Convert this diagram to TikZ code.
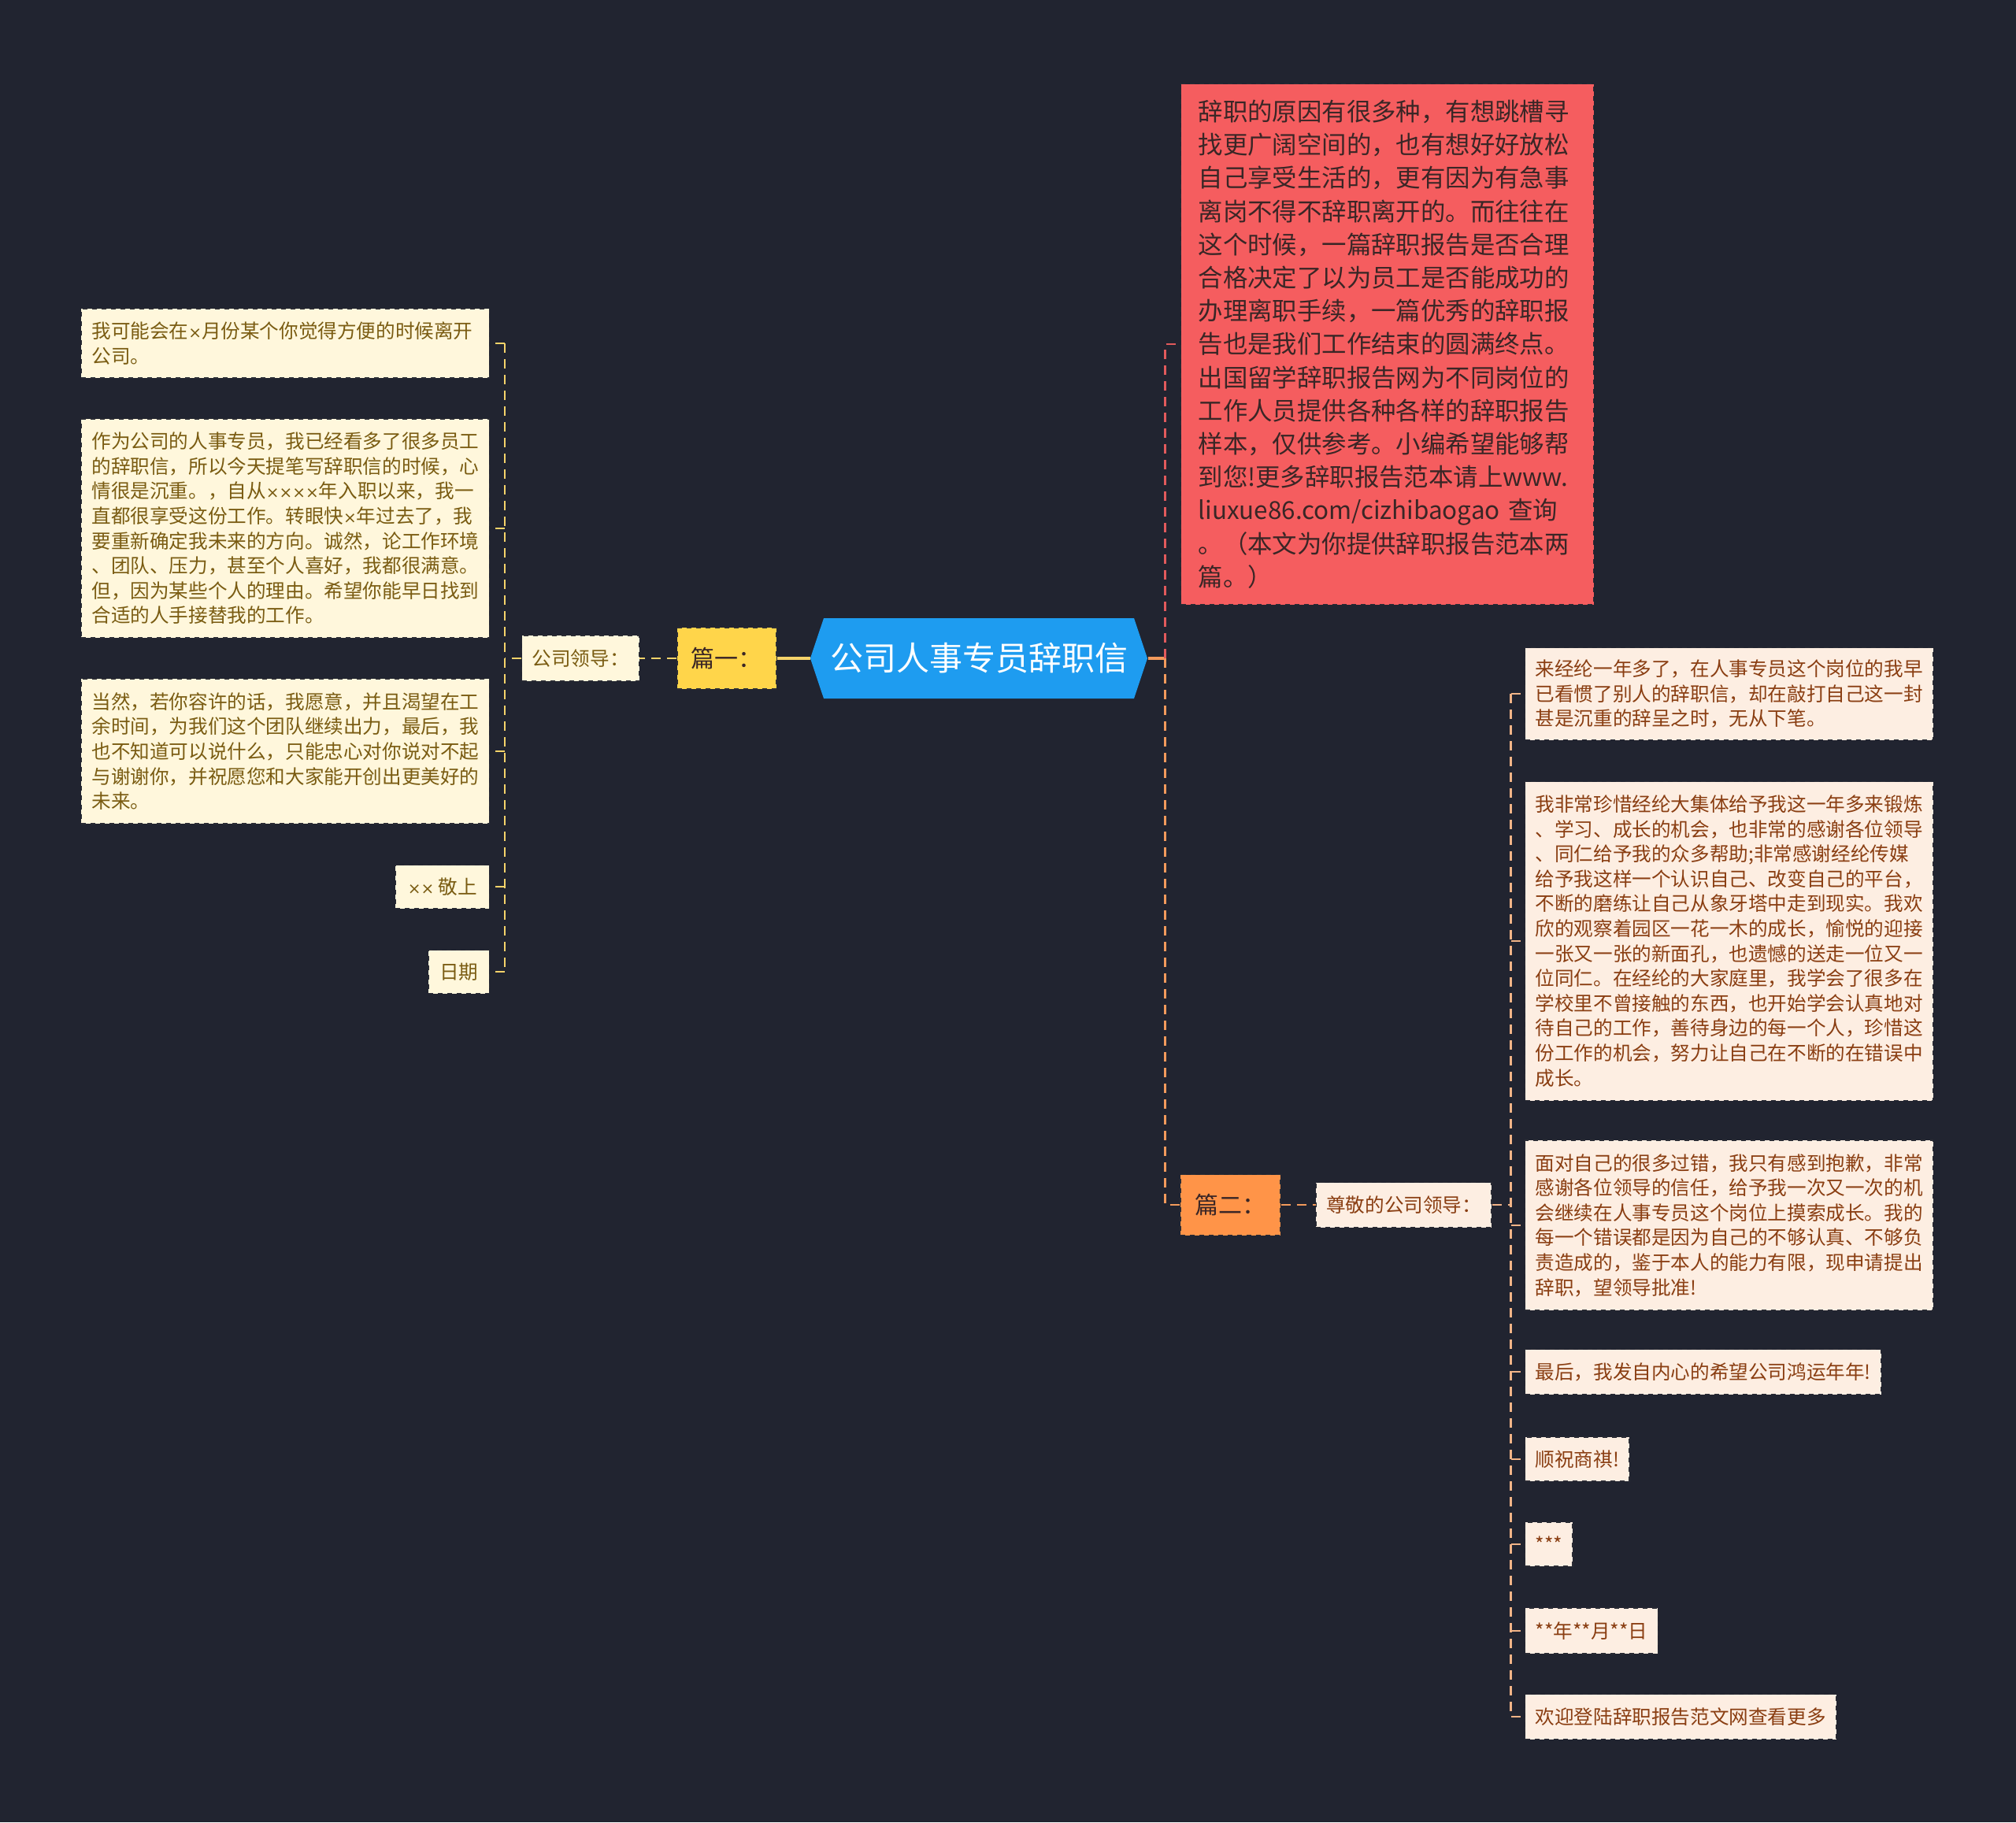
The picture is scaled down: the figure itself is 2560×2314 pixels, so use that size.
\documentclass[tikz,border=0pt]{standalone}
\usepackage{fontspec}
\setmainfont{Noto Sans CJK SC}
\newfontfamily\narrowfont{DejaVu Sans}
\newcommand{\mul}{{\narrowfont\fontsize{10}{12}\selectfont ×}}
\usepackage{tikz}
\usetikzlibrary{positioning,shapes.symbols}
\definecolor{MapBg}{HTML}{212430}
\definecolor{MapEdge}{HTML}{2A2C35}
\definecolor{MapBlue}{HTML}{1E9CF0}
\definecolor{MapYellow}{HTML}{FFD54A}
\definecolor{MapOrange}{HTML}{FF9448}
\definecolor{MapRed}{HTML}{F55D5F}
\definecolor{MapCream}{HTML}{FFF7DC}
\definecolor{MapPeach}{HTML}{FDEEE2}
\definecolor{MapOlive}{HTML}{7A5C12}
\definecolor{MapBrown}{HTML}{8A3E12}
\definecolor{MapInk}{HTML}{3A2626}
\definecolor{LinkYellow}{HTML}{F5D36A}
\definecolor{LinkRed}{HTML}{E25A5C}
\definecolor{LinkOrange}{HTML}{F29A5C}
\definecolor{LinkPeach}{HTML}{F2B487}

\begin{document}
\begin{tikzpicture}[x=0.5pt, y=-0.5pt,
  every node/.style={inner sep=0pt, align=left},
  box/.style={draw=MapEdge, dashed, line width=0.6pt, inner xsep=6.5pt},
  leafl/.style={box, fill=MapCream, text=MapOlive, anchor=east, font=\fontsize{12.3}{15.8}\selectfont},
  leafr/.style={box, fill=MapPeach, text=MapBrown, anchor=west, font=\fontsize{12.3}{15.8}\selectfont},
  wide/.style={text width=246pt},
  linkl/.style={draw=LinkYellow, line width=1.3pt, dash pattern=on 6pt off 4pt},
  linkr/.style={draw=LinkPeach, line width=1.3pt, dash pattern=on 6pt off 4pt}]
  \fill[MapBg] (0,0) rectangle (2560,2314);
  \useasboundingbox (0,0) rectangle (2560,2314);

  % centre
  \node[signal, signal to=west and east, signal pointer angle=143, fill=MapBlue, text=white, font=\fontsize{21}{25}\selectfont, minimum width=211pt, minimum height=51pt, inner xsep=4pt] (root) at (1243,836) {公司人事专员辞职信};

  % part one
  \node[box, fill=MapYellow, text=MapInk, font=\fontsize{15}{18}\selectfont, minimum width=63pt, minimum height=39pt, left=21pt of root] (part1) {篇一：};
  \node[box, fill=MapCream, text=MapOlive, font=\fontsize{12.3}{15.8}\selectfont, minimum width=73.5pt, minimum height=29pt, left=23.5pt of part1] (boss1) {公司领导：};

  \node[leafl, wide, minimum height=44pt] (l1) at (622,436) {我可能会在\mul 月份某个你觉得方便的时候离开\\公司。};
  \node[leafl, wide, minimum height=139pt] (l2) at (622,671) {作为公司的人事专员，我已经看多了很多员工\\的辞职信，所以今天提笔写辞职信的时候，心\\情很是沉重。，自从\mul\mul\mul\mul 年入职以来，我一\\直都很享受这份工作。转眼快\mul 年过去了，我\\要重新确定我未来的方向。诚然，论工作环境\\、团队、压力，甚至个人喜好，我都很满意。\\但，因为某些个人的理由。希望你能早日找到\\合适的人手接替我的工作。};
  \node[leafl, wide, minimum height=92pt] (l3) at (622,954) {当然，若你容许的话，我愿意，并且渴望在工\\余时间，为我们这个团队继续出力，最后，我\\也不知道可以说什么，只能忠心对你说对不起\\与谢谢你，并祝愿您和大家能开创出更美好的\\未来。};
  \node[leafl, minimum width=59.5pt, minimum height=27.5pt] (l4) at (622,1126) {\mul\mul\ 敬上};
  \node[leafl, minimum width=38.5pt, minimum height=27.5pt] (l5) at (622,1234) {日期};

  \draw[draw=LinkYellow, line width=2pt] (root.west) -- (part1.east);
  \draw[linkl] (part1.west) -- (boss1.east);
  \draw[linkl] (boss1.west) -- ++(-21,0) coordinate (ltrunk);
  \draw[linkl] (ltrunk |- l1.east) -- (ltrunk |- l5.east);
  \foreach \n in {l1,l2,l3,l4,l5}
    \draw[linkl] (ltrunk |- \n.east) -- (\n.east);

  % intro
  \node[box, fill=MapRed, text=MapInk, font=\fontsize{15.7}{21.1}\selectfont, text width=240pt, inner xsep=11pt, minimum height=330.5pt, anchor=north west] (intro) at (1499,106) {辞职的原因有很多种，有想跳槽寻\\找更广阔空间的，也有想好好放松\\自己享受生活的，更有因为有急事\\离岗不得不辞职离开的。而往往在\\这个时候，一篇辞职报告是否合理\\合格决定了以为员工是否能成功的\\办理离职手续，一篇优秀的辞职报\\告也是我们工作结束的圆满终点。\\出国留学辞职报告网为不同岗位的\\工作人员提供各种各样的辞职报告\\样本，仅供参考。小编希望能够帮\\到您!更多辞职报告范本请上www.\\liuxue86.com/cizhibaogao 查询\\。（本文为你提供辞职报告范本两\\篇。）};

  % part two
  \node[box, fill=MapOrange, text=MapInk, font=\fontsize{15}{18}\selectfont, minimum width=63.5pt, minimum height=38.5pt] (part2) at (1562.5,1530) {篇二：};
  \node[box, fill=MapPeach, text=MapBrown, font=\fontsize{12.3}{15.8}\selectfont, minimum width=110.5pt, minimum height=28.5pt, right=22pt of part2] (boss2) {尊敬的公司领导：};

  \node[leafr, wide, minimum height=58.5pt] (r1) at (1936,881) {来经纶一年多了，在人事专员这个岗位的我早\\已看惯了别人的辞职信，却在敲打自己这一封\\甚是沉重的辞呈之时，无从下笔。};
  \node[leafr, wide, minimum height=202.5pt] (r2) at (1936,1195) {我非常珍惜经纶大集体给予我这一年多来锻炼\\、学习、成长的机会，也非常的感谢各位领导\\、同仁给予我的众多帮助;非常感谢经纶传媒\\给予我这样一个认识自己、改变自己的平台，\\不断的磨练让自己从象牙塔中走到现实。我欢\\欣的观察着园区一花一木的成长，愉悦的迎接\\一张又一张的新面孔，也遗憾的送走一位又一\\位同仁。在经纶的大家庭里，我学会了很多在\\学校里不曾接触的东西，也开始学会认真地对\\待自己的工作，善待身边的每一个人，珍惜这\\份工作的机会，努力让自己在不断的在错误中\\成长。};
  \node[leafr, wide, minimum height=108pt] (r3) at (1936,1556) {面对自己的很多过错，我只有感到抱歉，非常\\感谢各位领导的信任，给予我一次又一次的机\\会继续在人事专员这个岗位上摸索成长。我的\\每一个错误都是因为自己的不够认真、不够负\\责造成的，鉴于本人的能力有限，现申请提出\\辞职，望领导批准!};
  \node[leafr, minimum width=225.5pt, minimum height=28.5pt] (r4) at (1936,1742) {最后，我发自内心的希望公司鸿运年年!};
  \node[leafr, minimum width=65.5pt, minimum height=28pt] (r5) at (1936,1853) {顺祝商祺!};
  \node[leafr, minimum width=29.5pt, minimum height=28pt] (r6) at (1936,1961) {***};
  \node[leafr, minimum width=84pt, minimum height=29pt] (r7) at (1936,2071) {**年**月**日};
  \node[leafr, minimum width=197.5pt, minimum height=28.5pt] (r8) at (1936,2180) {欢迎登陆辞职报告范文网查看更多};

  \draw[draw=LinkOrange, line width=2pt] (root.east) -- ++(22,0) coordinate (rtrunk);
  \draw[draw=LinkRed, line width=1.3pt, dash pattern=on 6pt off 4pt] (rtrunk) |- (intro.west);
  \draw[draw=LinkOrange, line width=1.3pt, dash pattern=on 6pt off 4pt] (rtrunk) |- (part2.west);
  \draw[draw=LinkOrange, line width=1.3pt, dash pattern=on 6pt off 4pt] (part2.east) -- (boss2.west);
  \draw[linkr] (boss2.east) -- ++(24,0) coordinate (rtrunk2);
  \draw[linkr] (rtrunk2 |- r1.west) -- (rtrunk2 |- r8.west);
  \foreach \n in {r1,r2,r3,r4,r5,r6,r7,r8}
    \draw[linkr] (rtrunk2 |- \n.west) -- (\n.west);
\end{tikzpicture}
\end{document}
